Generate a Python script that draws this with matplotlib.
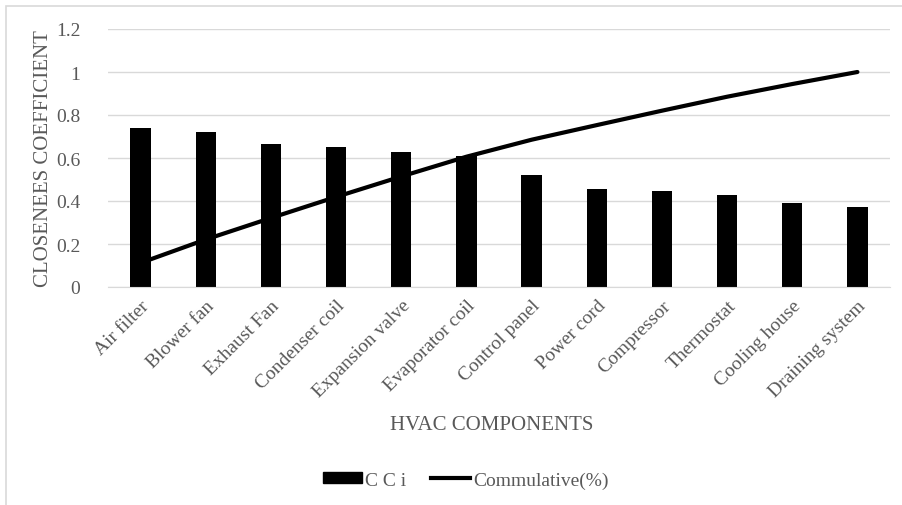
import matplotlib
matplotlib.use("Agg")
import matplotlib.pyplot as plt
from matplotlib.patches import Rectangle, Patch
from matplotlib.lines import Line2D
import numpy as np

categories = ["Air filter", "Blower fan", "Exhaust Fan", "Condenser coil", "Expansion valve",
              "Evaporator coil", "Control panel", "Power cord", "Compressor", "Thermostat",
              "Cooling house", "Draining system"]
cci = [0.74, 0.72, 0.665, 0.65, 0.63, 0.61, 0.52, 0.455, 0.445, 0.428, 0.39, 0.372]
cumulative = [0.112, 0.221, 0.321, 0.419, 0.514, 0.606, 0.685, 0.753, 0.820, 0.885, 0.944, 1.0]
yticks = [0, 0.2, 0.4, 0.6, 0.8, 1, 1.2]
ytick_labels = ["0", "0.2", "0.4", "0.6", "0.8", "1", "1.2"]

plt.rcParams['font.family'] = ['Liberation Serif', 'DejaVu Serif']
gray = "#595959"

fig = plt.figure(figsize=(9.03, 5.06), dpi=100)
W, H = 903, 506
ax = fig.add_axes([108 / W, 1 - 288 / H, (890 - 108) / W, (288 - 30) / H])

x = np.arange(len(categories))
ax.bar(x, cci, width=0.31, color="black", zorder=2)
ax.plot(x, cumulative, color="black", linewidth=3, solid_capstyle="round", zorder=3)

ax.set_xlim(-0.5, len(categories) - 0.5)
ax.set_ylim(0, 1.2)
ax.set_yticks(yticks)
ax.set_yticklabels(ytick_labels)
ax.yaxis.grid(True, color="#d9d9d9", linewidth=1)
ax.set_axisbelow(True)
for s in ["top", "right", "left"]:
    ax.spines[s].set_visible(False)
ax.spines["bottom"].set_color("#d9d9d9")
ax.tick_params(axis="both", length=0, colors=gray, labelsize=14)
ax.tick_params(axis="y", pad=20)
ax.set_xticks(x)
ax.set_xticklabels(categories, rotation=45, ha="right", rotation_mode="anchor")
ax.tick_params(axis="x", pad=7)

ax.set_ylabel("CLOSENEES COEFFICIENT", fontsize=15, color=gray, labelpad=2)
fig.text(492 / W, 1 - 425 / H, "HVAC COMPONENTS", fontsize=15, color=gray, ha="center", va="center")

handles = [Patch(facecolor="black", edgecolor="black"),
           Line2D([0], [0], color="black", linewidth=3)]
fig.legend(handles, ["C C i", "Commulative(%)"], loc="center", bbox_to_anchor=(466 / W, 1 - 481 / H),
           ncol=2, frameon=False, fontsize=14, handlelength=2.0, handleheight=0.5,
           handletextpad=0.15, columnspacing=1.3, labelcolor=gray)

fig.patches.append(Rectangle((6 / W, -0.1), 1.2, 1 - 7 / H + 0.1, transform=fig.transFigure,
                             fill=False, edgecolor="#d9d9d9", linewidth=1.2))

fig.savefig("out.png", dpi=100)
